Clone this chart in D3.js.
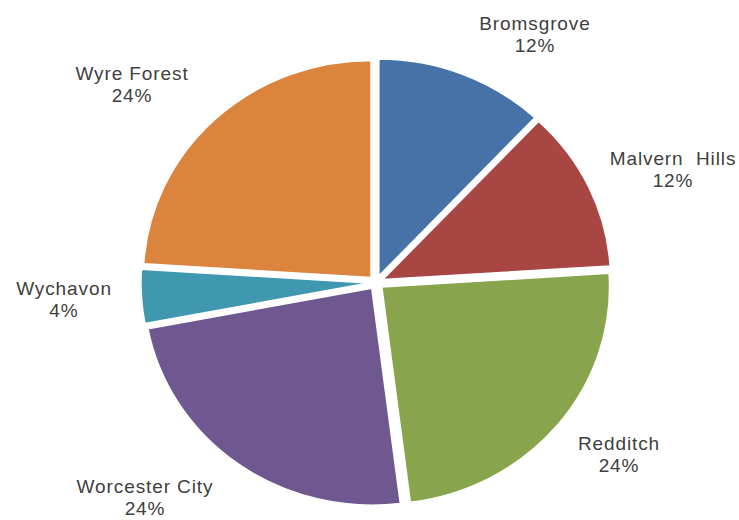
<!DOCTYPE html>
<html>
<head>
<meta charset="utf-8">
<script src="https://cdn.jsdelivr.net/npm/d3@7/dist/d3.min.js"></script>
<style>
  html, body { margin: 0; padding: 0; background: #ffffff; }
  svg text { font-family: "Liberation Sans", Arial, sans-serif; fill: #404040; white-space: pre; letter-spacing: 0.9px; }
</style>
</head>
<body>
<svg id="chart" width="739" height="520"></svg>
<script>
// Share of cases by district (percent)
const categories = ["Bromsgrove", "Malvern  Hills", "Redditch", "Worcester City", "Wychavon", "Wyre Forest"];
const shares = [12, 12, 24, 24, 4, 24];
const colors = ["#4672A8", "#A84644", "#88A54D", "#6F5790", "#3F98B0", "#DB843E"];

// Label anchor points (centre of the first text line's baseline)
const labelAnchors = [
  [535, 30], [673, 165], [619, 450], [145, 493], [64, 295], [132, 80]
];

const width = 739, height = 520;
const cx = 376.1, cy = 282.5;
const radius = 217;
const stretchX = 1.05;   // pie is drawn slightly wider than tall
const explode = 7;       // every slice pulled out along its bisector

const svg = d3.select("#chart");

const pie = d3.pie().sort(null).value(d => d)(shares);
const arc = d3.arc().innerRadius(0).outerRadius(radius);

const g = svg.append("g")
  .attr("transform", `translate(${cx},${cy}) scale(${stretchX},1)`);

g.selectAll("path")
  .data(pie)
  .join("path")
  .attr("d", arc)
  .attr("fill", (d, i) => colors[i])
  .attr("stroke", "#ffffff")
  .attr("stroke-width", 1.5)
  .attr("stroke-linejoin", "round")
  .attr("transform", d => {
    const mid = (d.startAngle + d.endAngle) / 2;
    return `translate(${explode * Math.sin(mid)},${-explode * Math.cos(mid)})`;
  });

const labels = svg.append("g")
  .selectAll("text")
  .data(pie)
  .join("text")
  .attr("text-anchor", "middle")
  .attr("font-size", 19)
  .attr("x", (d, i) => labelAnchors[i][0])
  .attr("y", (d, i) => labelAnchors[i][1]);

labels.append("tspan")
  .attr("x", (d, i) => labelAnchors[i][0])
  .text((d, i) => categories[i]);

labels.append("tspan")
  .attr("x", (d, i) => labelAnchors[i][0])
  .attr("dy", 21.7)
  .text(d => `${d.data}%`);
</script>
</body>
</html>
